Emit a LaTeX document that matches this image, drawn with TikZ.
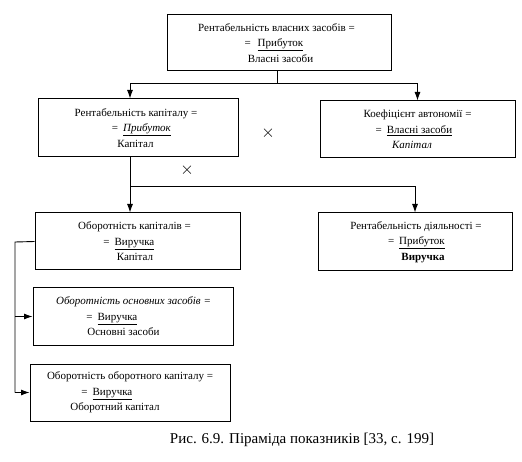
\documentclass[tikz,border=0pt]{standalone}
\usepackage{fontspec}
\setmainfont{Liberation Serif}
\usetikzlibrary{arrows.meta,calc}

% one line of a box, moved sideways by 2 x #1 / the fraction line with "=" in front
\newcommand\shln[2]{\makebox[0pt]{\hspace*{#1}\hspace*{#1}#2}}
\newcommand\eqln[3]{\makebox[0pt]{\hspace*{#1}\hspace*{#1}\llap{=\hspace{#2}}#3}}

\tikzset{
  blk/.style={draw,line width=1pt,inner sep=0pt,align=center,
    font=\fontsize{11}{15.5}\selectfont},
  lnk/.style={line width=.9pt},
  arr/.style={lnk,-{Latex[length=8.5pt,width=6pt]}},
  crs/.style={font=\fontsize{19}{19}\selectfont}
}

\begin{document}
\begin{tikzpicture}[x=1pt,y=-1pt]
\useasboundingbox (0,0) rectangle (522,462);

\node[blk,minimum width=224pt,minimum height=56pt] (top) at (279,43)
  {\shln{-2.5pt}{Рентабельність власних засобів =}\\
   \eqln{1.5pt}{7pt}{\underline{Прибуток}}\\
   \shln{1.5pt}{Власні засоби}};

\node[blk,minimum width=200pt,minimum height=58pt] (rk) at (138,128)
  {\shln{-2pt}{Рентабельність капіталу =}\\
   \eqln{9pt}{5pt}{\underline{\textit{Прибуток}}}\\
   \shln{-2.5pt}{Капітал}};

\node[blk,minimum width=195pt,minimum height=57pt] (ka) at (417.5,129.5)
  {\shln{0pt}{Коефіцієнт автономії =}\\
   \eqln{2pt}{5pt}{\underline{Власні засоби}}\\
   \shln{-5.5pt}{\textit{Капітал}}};

\node[blk,minimum width=205pt,minimum height=57pt] (ok) at (137.5,241.5)
  {\shln{-3pt}{Оборотність капіталів =}\\
   \eqln{-3pt}{5pt}{\underline{Виручка}}\\
   \shln{-2.5pt}{Капітал}};

\node[blk,minimum width=194pt,minimum height=58pt] (rd) at (415,242)
  {\shln{1pt}{Рентабельність діяльності =}\\
   \eqln{7pt}{5pt}{\underline{Прибуток}}\\
   \shln{8pt}{\textbf{Виручка}}};

\node[blk,minimum width=200pt,minimum height=57pt] (oz) at (133,316.5)
  {\shln{0.5pt}{\textit{Оборотність основних засобів =}}\\
   \eqln{-15.5pt}{5pt}{\underline{Виручка}}\\
   \shln{-9.5pt}{Основні засоби}};

\node[blk,minimum width=200pt,minimum height=57pt] (oo) at (130,392.5)
  {\shln{0pt}{Оборотність оборотного капіталу =}\\
   \eqln{-17.5pt}{5pt}{\underline{Виручка}}\\
   \shln{-15pt}{Оборотний капітал}};

\coordinate (s1) at (277,83);
\draw[lnk] (top.south -| s1) -- (s1);
\draw[arr] (s1) -| ([xshift=-8pt]rk.north);
\draw[arr] (s1) -| (ka.north);

\coordinate (s2) at (130,186);
\draw[arr] (rk.south -| s2) -- (ok.north -| s2);
\draw[arr] (s2) -| (rd.north);

\coordinate (s3) at (15,242);
\draw[lnk] (ok.west) -- (s3) -- (s3 |- oo.west);
\draw[arr] (s3 |- oz.west) -- (oz.west);
\draw[arr] (s3 |- oo.west) -- (oo.west);

\node[crs] (x1) at (268,133) {$\times$};
\node[crs] (x2) at (187,170) {$\times$};

\node[font=\fontsize{15}{17}\selectfont] (cap) at (302,440)
  {Рис. 6.9. Піраміда показників [33, с. 199]};
\end{tikzpicture}
\end{document}
